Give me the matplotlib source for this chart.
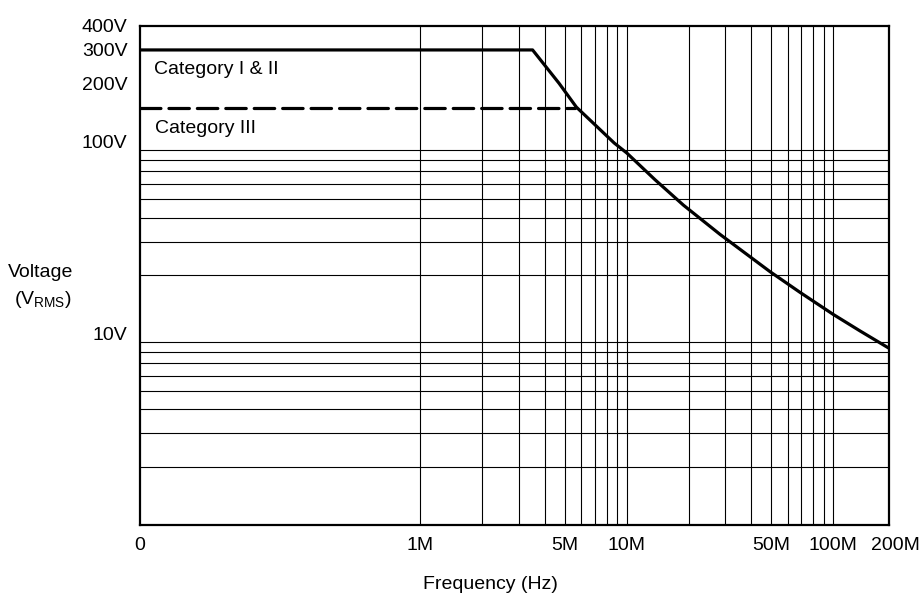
import matplotlib
matplotlib.use("Agg")
import matplotlib.pyplot as plt
import matplotlib.transforms as mtransforms
from matplotlib.ticker import NullFormatter

# ---------------- data ----------------
freq_left_hz = 44e3          # left edge of the axis (labelled "0")
freq_right_hz = 186e6        # right edge of the axis
volt_bottom = 1
volt_top = 400

# Category I & II derating curve
cat12_freq_hz = [44e3, 3.5e6, 4.7e6, 5.7e6, 8.7e6, 10e6, 13.7e6, 18.8e6, 28.3e6,
                 49.4e6, 69e6, 100e6, 134.6e6, 186e6]
cat12_volts = [300, 300, 201, 151, 98, 87, 63.1, 46.5, 32.7,
               20.9, 16.3, 12.5, 10.26, 8.33]

# Category III limit
cat3_freq_hz = [44e3, 5.6e6]
cat3_volts = [150, 150]

x_tick_values = [44e3, 1e6, 5e6, 10e6, 50e6, 100e6, 200e6]
x_tick_labels = ["0", "1M", "5M", "10M", "50M", "100M", "200M"]
y_tick_values = [10, 100, 200, 300, 400]
y_tick_labels = ["10V", "100V", "200V", "300V", "400V"]

x_grid_values = [k * 10 ** e for e in (6, 7) for k in range(1, 10)] + [1e8]
y_grid_values = [k * 10 ** e for e in (0, 1) for k in range(1, 10)] + [100, 200, 300]

# ---------------- style ----------------
FONT = ["Liberation Sans", "DejaVu Sans"]
plt.rcParams["font.family"] = FONT
plt.rcParams["mathtext.fontset"] = "custom"
plt.rcParams["mathtext.rm"] = "Liberation Sans"
plt.rcParams["mathtext.it"] = "Liberation Sans"
FS = 14

fig = plt.figure(figsize=(9.21, 5.99), dpi=100)
ax = fig.add_axes([140 / 921, 1 - 524.7 / 599, (889 - 140) / 921, (524.7 - 26) / 599])

ax.set_xscale("log")
ax.set_yscale("log")
ax.set_xlim(freq_left_hz, freq_right_hz)
ax.set_ylim(volt_bottom, volt_top)

# grid (minor ticks only carry the grid)
ax.set_xticks([])
ax.set_xticks(x_grid_values, minor=True)
ax.xaxis.set_minor_formatter(NullFormatter())
ax.set_yticks(y_tick_values)
ax.set_yticklabels(y_tick_labels)
ax.set_yticks(y_grid_values, minor=True)
ax.yaxis.set_minor_formatter(NullFormatter())
ax.tick_params(which="both", length=0)
ax.tick_params(axis="y", which="major", pad=9, labelsize=FS)
ax.grid(False, which="major")
ax.grid(True, which="minor", color="black", linewidth=0.8)
ax.set_axisbelow(True)

for sp in ax.spines.values():
    sp.set_linewidth(1.6)
    sp.set_color("black")
    sp.set_zorder(5)

# curves
ax.plot(cat12_freq_hz, cat12_volts, color="black", linewidth=2.3,
        solid_capstyle="butt", solid_joinstyle="round", zorder=4)
ax.plot(cat3_freq_hz, cat3_volts, color="black", linewidth=2.3,
        linestyle=(0, (6.4, 2.5)), dash_capstyle="round", zorder=4)

# annotations
ax.text(0.019, 0.903, "Category I & II", transform=ax.transAxes,
        fontsize=FS, ha="left", va="baseline")
ax.text(0.020, 0.785, "Category III", transform=ax.transAxes,
        fontsize=FS, ha="left", va="baseline")

# x tick labels
trans = mtransforms.blended_transform_factory(ax.transData, ax.transAxes)
for v, lab in zip(x_tick_values, x_tick_labels):
    t = ax.text(v, 0, lab, fontsize=FS, ha="center", va="top", clip_on=False)
    t.set_transform(trans + mtransforms.ScaledTranslation(0, -12.5 / 100, fig.dpi_scale_trans))

# axis titles
fig.text(490 / 921, 1 - 589.3 / 599, "Frequency (Hz)", fontsize=FS,
         ha="center", va="baseline")
fig.text(41 / 921, 1 - 277.3 / 599, "Voltage", fontsize=FS,
         ha="center", va="baseline")
fig.text(43 / 921, 1 - 304 / 599, r"(V$_{\mathrm{RMS}}$)", fontsize=FS,
         ha="center", va="baseline")

fig.savefig("out.png", dpi=100)
